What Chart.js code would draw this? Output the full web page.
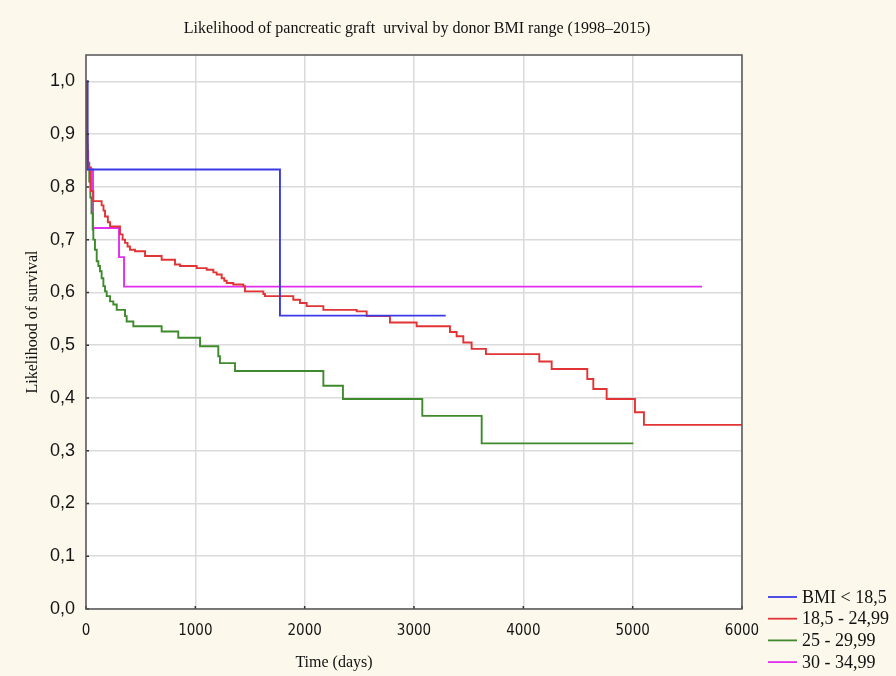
<!DOCTYPE html>
<html>
<head>
<meta charset="utf-8">
<title>Pancreatic graft survival by donor BMI</title>
<script src="https://cdn.jsdelivr.net/npm/chart.js@4.4.1/dist/chart.umd.min.js"></script>
<style>
  html, body { margin: 0; padding: 0; background: #fcf8ec; }
  canvas { display: block; }
</style>
</head>
<body>
<canvas id="survivalChart" width="896" height="676"></canvas>
<script>
// Kaplan-Meier style steps: each point = (day of event, survival after it).
const chartTitle = "Likelihood of pancreatic graft  urvival by donor BMI range (1998–2015)";
const xTitle = "Time (days)";
const yTitle = "Likelihood of survival";

const seriesLabels = ["BMI < 18,5", "18,5 - 24,99", "25 - 29,99", "30 - 34,99"];
const seriesColors = ["#3b3be6", "#e23434", "#3f8a2c", "#e22ef0"];

const bmiLowDays = [0, 15, 1774, 3290];
const bmiLowSurv = [1.0, 0.833, 0.556, 0.556];

const bmiNormalDays = [0, 3, 8, 14, 20, 45, 67, 143, 160, 174, 200, 220, 311, 335, 357, 380, 402, 448, 540,
  692, 814, 860, 1012, 1104, 1165, 1195, 1241, 1265, 1287, 1347, 1439, 1454, 1622, 1637, 1896, 1957, 2018,
  2171, 2476, 2567, 2780, 3024, 3329, 3390, 3451, 3527, 3658, 4146, 4259, 4585, 4640, 4762, 5021, 5103, 6000];
const bmiNormalSurv = [1.0, 0.95, 0.9, 0.868, 0.837, 0.792, 0.773, 0.765, 0.755, 0.744, 0.733, 0.725, 0.71, 0.7,
  0.694, 0.687, 0.681, 0.678, 0.669, 0.662, 0.653, 0.65, 0.646, 0.643, 0.638, 0.634, 0.627, 0.622, 0.618, 0.615,
  0.612, 0.602, 0.597, 0.593, 0.586, 0.58, 0.574, 0.567, 0.564, 0.555, 0.543, 0.536, 0.525, 0.517, 0.505, 0.493,
  0.483, 0.469, 0.455, 0.436, 0.417, 0.398, 0.373, 0.349, 0.349];

const bmiOverDays = [0, 4, 8, 15, 30, 40, 50, 61, 67, 82, 98, 113, 128, 143, 159, 174, 189, 220, 250, 281, 357,
  372, 433, 692, 844, 1043, 1210, 1225, 1363, 2171, 2350, 3076, 3619, 5006];
const bmiOverSurv = [1.0, 0.93, 0.88, 0.846, 0.81, 0.78, 0.75, 0.719, 0.7, 0.681, 0.659, 0.65, 0.64, 0.627,
  0.612, 0.602, 0.593, 0.583, 0.577, 0.567, 0.555, 0.545, 0.536, 0.526, 0.514, 0.498, 0.479, 0.466, 0.451,
  0.423, 0.398, 0.366, 0.314, 0.314];

const bmiObeseDays = [0, 4, 8, 12, 64, 302, 348, 5634];
const bmiObeseSurv = [1.0, 0.944, 0.889, 0.833, 0.722, 0.667, 0.611, 0.611];

const xTicks = [0, 1000, 2000, 3000, 4000, 5000, 6000];
const yTicks = [0, 0.1, 0.2, 0.3, 0.4, 0.5, 0.6, 0.7, 0.8, 0.9, 1.0];

const seriesDays = [bmiLowDays, bmiNormalDays, bmiOverDays, bmiObeseDays];
const seriesSurv = [bmiLowSurv, bmiNormalSurv, bmiOverSurv, bmiObeseSurv];

const serif = "'Liberation Serif', 'Times New Roman', serif";
const sans = "'Liberation Sans', Arial, sans-serif";
const narrow = "'Liberation Sans Narrow', 'DejaVu Sans Condensed', 'Liberation Sans', Arial, sans-serif";

const frame = {
  id: "frame",
  beforeDraw(chart) {
    const { ctx, chartArea: a } = chart;
    ctx.save();
    ctx.fillStyle = "#fcf8ec";
    ctx.fillRect(0, 0, chart.width, chart.height);
    ctx.fillStyle = "#ffffff";
    ctx.fillRect(a.left, a.top, a.right - a.left, a.bottom - a.top);
    ctx.restore();
  },
  afterDraw(chart) {
    const { ctx, chartArea: a, scales } = chart;
    ctx.save();
    // small inner tick marks
    ctx.strokeStyle = "#333";
    ctx.lineWidth = 1.5;
    ctx.beginPath();
    yTicks.forEach((v) => {
      const y = scales.y.getPixelForValue(v);
      ctx.moveTo(a.left, y);
      ctx.lineTo(a.left + 3, y);
    });
    xTicks.forEach((v) => {
      const x = scales.x.getPixelForValue(v);
      ctx.moveTo(x, a.bottom);
      ctx.lineTo(x, a.bottom - 3);
    });
    ctx.stroke();
    // plot frame
    ctx.strokeStyle = "#555";
    ctx.lineWidth = 1.5;
    ctx.strokeRect(a.left, a.top, a.right - a.left, a.bottom - a.top);

    // titles
    ctx.fillStyle = "#111";
    ctx.textAlign = "center";
    ctx.textBaseline = "middle";
    ctx.font = "16px " + serif;
    ctx.fillText(chartTitle, 417, 29);
    ctx.fillText(xTitle, 334, 663);
    ctx.translate(33, 322);
    ctx.rotate(-Math.PI / 2);
    ctx.fillText(yTitle, 0, 0);
    ctx.setTransform(1, 0, 0, 1, 0, 0);

    // legend
    ctx.font = "18px " + serif;
    ctx.textAlign = "left";
    chart.data.datasets.forEach((ds, i) => {
      const y = 597 + i * 21.7;
      ctx.strokeStyle = ds.borderColor;
      ctx.lineWidth = 1.8;
      ctx.beginPath();
      ctx.moveTo(768, y);
      ctx.lineTo(797, y);
      ctx.stroke();
      ctx.fillStyle = "#111";
      ctx.fillText(ds.label, 802, y + 1);
    });
    ctx.restore();
  }
};

const datasets = seriesLabels.map((label, i) => ({
  label,
  data: seriesDays[i].map((d, j) => ({ x: d, y: seriesSurv[i][j] })),
  borderColor: seriesColors[i],
  borderWidth: 1.9,
  pointRadius: 0,
  stepped: true,
  fill: false
}));

new Chart(document.getElementById("survivalChart"), {
  type: "line",
  data: { datasets },
  plugins: [frame],
  options: {
    responsive: false,
    animation: false,
    devicePixelRatio: 1,
    layout: { padding: { top: 55, right: 154, bottom: 0, left: 0 } },
    plugins: {
      legend: { display: false },
      title: { display: false },
      tooltip: { enabled: false }
    },
    scales: {
      x: {
        type: "linear",
        min: 0,
        max: 6000,
        afterBuildTicks: (s) => { s.ticks = xTicks.map((v) => ({ value: v })); },
        afterFit: (s) => { s.height = 67; },
        border: { display: false },
        grid: { color: "#dadada", lineWidth: 1.5, drawTicks: false },
        ticks: {
          padding: 13,
          color: "#151515",
          font: { family: narrow, size: 15 },
          callback: (v) => String(v)
        }
      },
      y: {
        type: "linear",
        min: 0,
        max: 1.05,
        afterBuildTicks: (s) => { s.ticks = yTicks.map((v) => ({ value: v })); },
        afterFit: (s) => { s.width = 86; },
        border: { display: false },
        grid: { color: "#dadada", lineWidth: 1.5, drawTicks: false },
        ticks: {
          padding: 11,
          color: "#151515",
          font: { family: sans, size: 18 },
          callback: (v) => v.toFixed(1).replace(".", ",")
        }
      }
    }
  }
});
</script>
</body>
</html>
